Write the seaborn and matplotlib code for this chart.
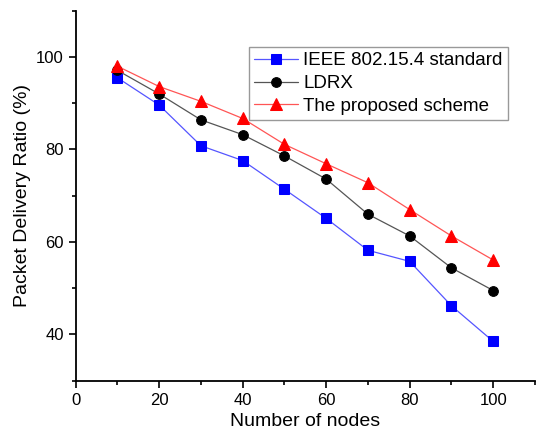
import numpy as np
import pandas as pd
import matplotlib
matplotlib.use("Agg")
import matplotlib.pyplot as plt
from matplotlib.ticker import MultipleLocator
import seaborn as sns

# values
nodes = [10, 20, 30, 40, 50, 60, 70, 80, 90, 100]
ieee = [95.5, 89.6, 80.8, 77.6, 71.4, 65.1, 58.2, 55.8, 46.2, 38.5]
ldrx = [97.1, 92.0, 86.4, 83.2, 78.6, 73.6, 66.0, 61.3, 54.4, 49.5]
proposed = [98.0, 93.6, 90.4, 86.7, 81.1, 76.9, 72.8, 67.0, 61.3, 56.1]

series_names = ["IEEE 802.15.4 standard", "LDRX", "The proposed scheme"]
series_values = [ieee, ldrx, proposed]
colors = ["#0000FF", "#000000", "#FF0000"]
line_colors = ["#5555FF", "#555555", "#FF5555"]
markers = ["s", "o", "^"]
marker_sizes = [6.5, 7, 8]

sns.set_style("ticks")
plt.rcParams["font.family"] = ["Liberation Sans", "DejaVu Sans"]
plt.rcParams.update({"text.color": "black", "axes.labelcolor": "black",
                     "xtick.color": "black", "ytick.color": "black",
                     "axes.edgecolor": "black"})

fig = plt.figure(figsize=(5.5, 4.46), dpi=100)
ax = fig.add_axes([0.1376, 0.1464, 0.835, 0.8296])

for name, vals, c, lc, m, ms in zip(series_names, series_values, colors, line_colors, markers, marker_sizes):
    df = pd.DataFrame({"nodes": nodes, "pdr": vals})
    sns.lineplot(data=df, x="nodes", y="pdr", ax=ax, color=lc, marker=m,
                 markersize=ms, markerfacecolor=c, markeredgecolor=c,
                 linewidth=0.9, label=name)

ax.set_xlim(0, 110)
ax.set_ylim(30, 110)
ax.xaxis.set_minor_locator(MultipleLocator(10))
ax.yaxis.set_minor_locator(MultipleLocator(10))
ax.set_xticks([0, 20, 40, 60, 80, 100])
ax.set_yticks([40, 60, 80, 100])
ax.tick_params(which="major", length=5, width=1.2, labelsize=12, direction="out")
ax.tick_params(which="minor", length=3, width=1.2, direction="out")
for s in ["left", "bottom"]:
    ax.spines[s].set_linewidth(1.3)
sns.despine(ax=ax)

ax.set_xlabel("Number of nodes", fontsize=14)
ax.set_ylabel("Packet Delivery Ratio (%)", fontsize=14)

leg = ax.legend(loc="upper left", bbox_to_anchor=(0.377, 0.903), borderaxespad=0,
                fontsize=13.5, frameon=True, fancybox=False, edgecolor="#808080",
                handlelength=2.3, handletextpad=0.3, borderpad=0.3, labelspacing=0.3)
leg.get_frame().set_linewidth(1.0)

fig.savefig("out.png", dpi=100)
